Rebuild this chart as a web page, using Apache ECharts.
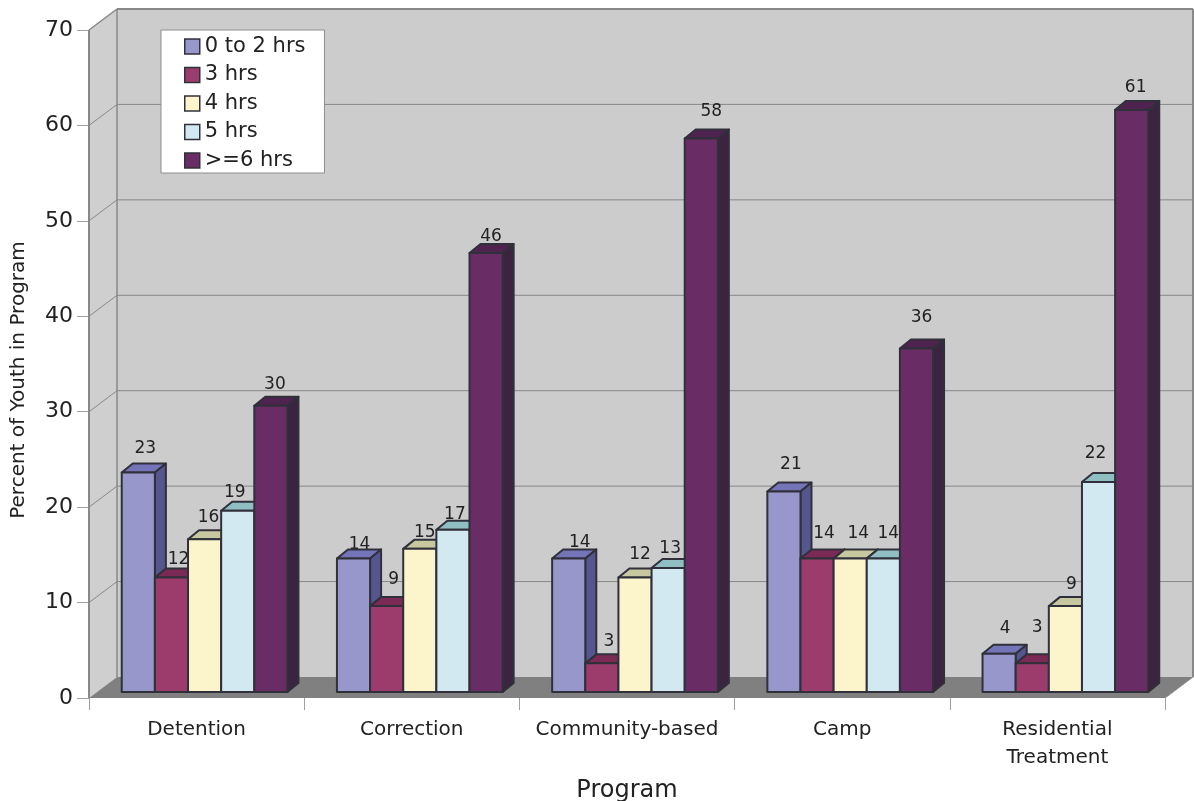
<!DOCTYPE html>
<html>
<head>
<meta charset="utf-8">
<style>html,body{margin:0;padding:0;background:#fff}#chart{width:1194px;height:801px}</style>
<script src="https://cdn.jsdelivr.net/npm/echarts@6/dist/echarts.min.js"></script>
</head>
<body>
<div id="chart"></div>
<script>
// Share of youth by hours of activity, per program type
const categories = ['Detention', 'Correction', 'Community-based', 'Camp', 'Residential\nTreatment'];
const hours0to2 = [23, 14, 14, 21, 4];
const hours3 = [12, 9, 3, 14, 3];
const hours4 = [16, 15, 12, 14, 9];
const hours5 = [19, 17, 13, 14, 22];
const hours6plus = [30, 46, 58, 36, 61];
const yTicks = [0, 10, 20, 30, 40, 50, 60, 70];

// Projection of the box: how far the back wall sits from the front plane
const WALL_DX = 28, WALL_DY = -21;
// Bars stand slightly behind the front plane and have their own shallow depth
const BAR_DX = 8, BAR_DY = -6, DEPTH_DX = 11, DEPTH_DY = -9;
const BAR_FRACTION = 0.154;
const OUTLINE = '#30303a';
const WALL_LINE = '#888888';

// Value-label placement relative to each bar's top centre, per category
const labelShifts = [
  [[7, -24], [6, -14], [11, -16], [7, -27], [6, -25]],
  [[7, -18], [7, -27], [7, -22], [7, -25], [5, -36]],
  [[4, -22], [5, -16], [5, -23], [8, -25], [6, -22]],
  [[-3, -18], [2, -15], [2, -19], [5, -25], [-3, -28]],
  [[4, -21], [5, -16], [10, -27], [5, -31], [4, -22]]
];

const seriesDefs = [
  { name: '0 to 2 hrs', values: hours0to2, front: '#9797cb', top: '#7474b8', side: '#56568e' },
  { name: '3 hrs', values: hours3, front: '#9c3c6c', top: '#7a2a55', side: '#6c2a50' },
  { name: '4 hrs', values: hours4, front: '#fcf5cc', top: '#c8c8a0', side: '#b8b890' },
  { name: '5 hrs', values: hours5, front: '#d3e9f1', top: '#8fbfc2', side: '#7fa9ad' },
  { name: '>=6 hrs', values: hours6plus, front: '#6a2c65', top: '#4e2350', side: '#3b2440' }
];

// Side walls, back wall and floor, placed from the axis scales
function renderWalls(params, api) {
  const band = api.size([1, 0])[0];
  const [x0, y0] = api.coord([0, 0]);
  const [xN] = api.coord([categories.length - 1, 0]);
  const [, yTop] = api.coord([0, 70]);
  const left = x0 - band / 2, right = xN + band / 2;
  const poly = (points, fill) => ({
    type: 'polygon', shape: { points }, style: { fill, stroke: null }
  });
  const line = (p1, p2, width) => ({
    type: 'line',
    shape: { x1: p1[0], y1: p1[1], x2: p2[0], y2: p2[1] },
    style: { stroke: WALL_LINE, lineWidth: width }
  });
  const bx = WALL_DX, by = WALL_DY;
  return {
    type: 'group',
    children: [
      poly([[left + bx, yTop + by], [right + bx, yTop + by], [right + bx, y0 + by], [left + bx, y0 + by]], '#cccccc'),
      poly([[left, yTop], [left + bx, yTop + by], [left + bx, y0 + by], [left, y0]], '#cfcfcf'),
      poly([[left, y0], [left + bx, y0 + by], [right + bx, y0 + by], [right, y0]], '#808080'),
      line([left, yTop], [left + bx, yTop + by], 1.5),
      line([left + bx, yTop + by], [right + bx, yTop + by], 2),
      line([right + bx, yTop + by], [right + bx, y0 + by], 2),
      line([left + bx, yTop + by], [left + bx, y0 + by], 1.5),
      line([left, yTop], [left, y0], 2),
      line([right, y0], [right + bx, y0 + by], 1)
    ]
  };
}

// One gridline: up the side wall, then across the back wall
function renderGridline(params, api) {
  const band = api.size([1, 0])[0];
  const [x0] = api.coord([0, 0]);
  const [xN] = api.coord([categories.length - 1, 0]);
  const y = api.coord([0, api.value(1)])[1];
  const left = x0 - band / 2, right = xN + band / 2;
  return {
    type: 'polyline',
    shape: { points: [[left, y], [left + WALL_DX, y + WALL_DY], [right + WALL_DX, y + WALL_DY]] },
    style: { stroke: WALL_LINE, lineWidth: 1, fill: null }
  };
}

// A box-shaped bar with its value printed just behind the box
function makeBarRenderer(def, seriesIndex) {
  return function (params, api) {
    const cat = api.value(0), v = api.value(1);
    const band = api.size([1, 0])[0];
    const w = band * BAR_FRACTION;
    const cx = api.coord([cat, 0])[0] + BAR_DX;
    const x1 = cx + (seriesIndex - 2.5) * w, x2 = x1 + w;
    const yBase = api.coord([cat, 0])[1] + BAR_DY;
    const yTop = api.coord([cat, v])[1] + BAR_DY;
    const edge = { stroke: OUTLINE, lineWidth: 2, lineJoin: 'round' };
    const shift = labelShifts[seriesIndex][cat];
    return {
      type: 'group',
      children: [
        {
          type: 'text',
          style: {
            text: String(v), x: (x1 + x2) / 2 + shift[0], y: yTop + shift[1],
            fontFamily: 'DejaVu Sans', fontSize: 17, fill: '#222222',
            textAlign: 'center', textVerticalAlign: 'middle'
          }
        },
        {
          type: 'polygon',
          shape: { points: [[x1, yTop], [x1 + DEPTH_DX, yTop + DEPTH_DY], [x2 + DEPTH_DX, yTop + DEPTH_DY], [x2, yTop]] },
          style: Object.assign({ fill: def.top }, edge)
        },
        {
          type: 'polygon',
          shape: { points: [[x2, yTop], [x2 + DEPTH_DX, yTop + DEPTH_DY], [x2 + DEPTH_DX, yBase + DEPTH_DY], [x2, yBase]] },
          style: Object.assign({ fill: def.side }, edge)
        },
        {
          type: 'rect',
          shape: { x: x1, y: yTop, width: w, height: yBase - yTop },
          style: Object.assign({ fill: def.front }, edge)
        }
      ]
    };
  };
}

const chart = echarts.init(document.getElementById('chart'), null, { renderer: 'canvas' });
chart.setOption({
  animation: false,
  backgroundColor: '#ffffff',
  textStyle: { fontFamily: 'DejaVu Sans' },
  grid: { left: 89, right: 29, top: 30, bottom: 103, containLabel: false, outerBoundsMode: 'none' },
  legend: {
    left: 161, top: 30,
    orient: 'vertical',
    data: seriesDefs.map(d => d.name),
    icon: 'rect',
    itemWidth: 15, itemHeight: 15, itemGap: 7.5,
    padding: [6, 19, 2, 23],
    backgroundColor: '#ffffff',
    borderColor: '#8e8e8e', borderWidth: 1, borderRadius: 0,
    selectedMode: false,
    itemStyle: { borderColor: OUTLINE, borderWidth: 1.5 },
    textStyle: { fontFamily: 'DejaVu Sans', fontSize: 21, color: '#222222', lineHeight: 20 }
  },
  xAxis: {
    type: 'category',
    data: categories,
    name: 'Program',
    nameLocation: 'middle',
    nameGap: 81,
    nameTextStyle: { fontFamily: 'DejaVu Sans', fontSize: 24, color: '#222222' },
    axisLine: { show: false },
    axisTick: { show: true, length: 12, alignWithLabel: false, lineStyle: { color: '#a0a0a0', width: 1 } },
    axisLabel: { margin: 18, interval: 0, fontFamily: 'DejaVu Sans', fontSize: 20, color: '#222222', lineHeight: 28 }
  },
  yAxis: {
    type: 'value',
    min: 0, max: 70, interval: 10,
    name: 'Percent of Youth in Program',
    nameLocation: 'middle',
    nameGap: 60,
    nameTextStyle: { fontFamily: 'DejaVu Sans', fontSize: 20, color: '#222222', padding: [0, 32, 0, 0] },
    axisLine: { show: false },
    axisTick: { show: true, length: 12, lineStyle: { color: '#a0a0a0', width: 1 } },
    axisLabel: { margin: 16, fontFamily: 'DejaVu Sans', fontSize: 22, color: '#222222' },
    splitLine: { show: false }
  },
  series: [
    { type: 'custom', name: 'walls', renderItem: renderWalls, data: [[0, 0]], encode: { x: 0, y: 1 }, silent: true, z: 1 },
    { type: 'custom', name: 'gridlines', renderItem: renderGridline, data: yTicks.slice(1, -1).map(t => [0, t]), encode: { x: 0, y: 1 }, silent: true, z: 1 }
  ].concat(seriesDefs.map((def, i) => ({
    type: 'custom',
    name: def.name,
    renderItem: makeBarRenderer(def, i),
    itemStyle: { color: def.front },
    data: def.values.map((v, c) => [c, v]),
    encode: { x: 0, y: 1 },
    z: 2
  })))
});
</script>
</body>
</html>
